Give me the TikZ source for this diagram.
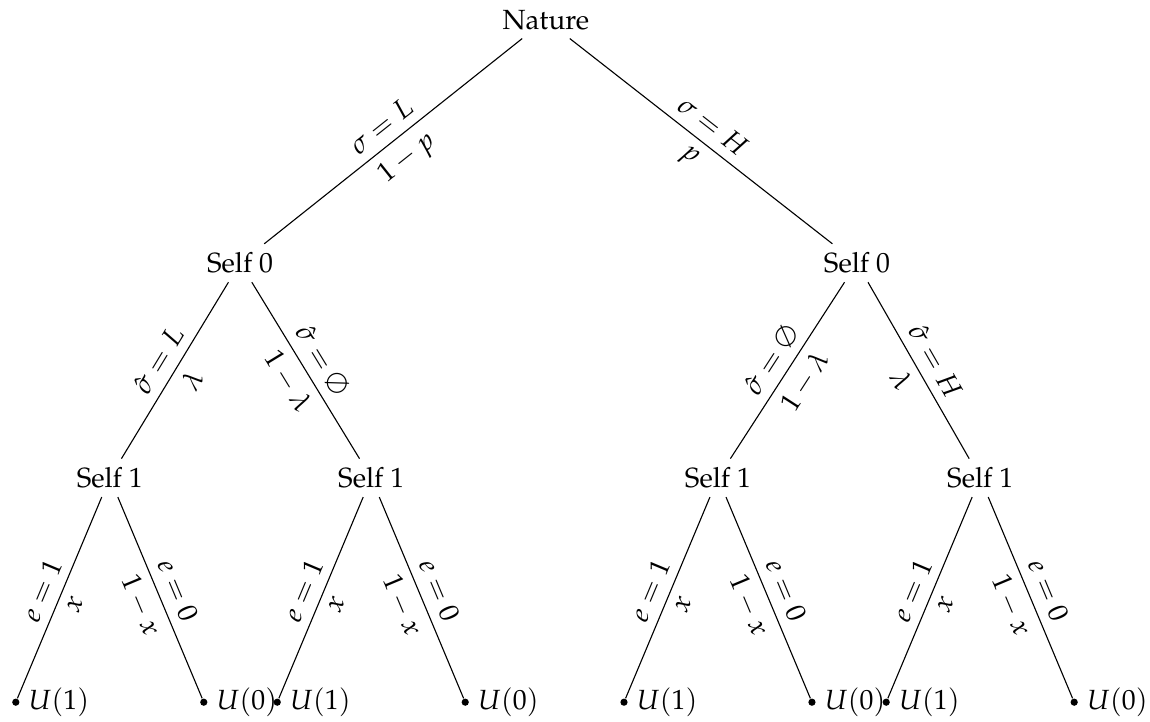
\documentclass[tikz,border=0pt]{standalone}
\usepackage[T1]{fontenc}
\usepackage{mathpazo}
\begin{document}
\begin{tikzpicture}[
    player/.style={inner sep=3pt},
    leaf/.style={circle, fill, inner sep=0pt, minimum size=2.6pt},
    payoff/.style={anchor=west, inner sep=3pt},
    choice/.style={midway, sloped, above},
    prob/.style={midway, sloped, below}]

    \def\leafGap{1.19}
    \def\leafY{-8.89}

    \useasboundingbox (0,0) rectangle (14.56,-9.14);

    % Nature and the first selves
    \node[player] (N) at (6.91,-0.25) {Nature};
    \node[player] (S0L) at (3.04,-3.33) {Self 0};
    \node[player] (S0R) at (10.85,-3.33) {Self 0};

    \draw (N) -- (S0L) node[choice] {$\sigma = L$} node[prob] {$1-p$};
    \draw (N) -- (S0R) node[choice] {$\sigma = H$} node[prob] {$p$};

    % Second selves
    \node[player] (S1a) at (1.39,-6.05) {Self 1};
    \node[player] (S1b) at (4.70,-6.05) {Self 1};
    \node[player] (S1c) at (9.09,-6.05) {Self 1};
    \node[player] (S1d) at (12.41,-6.05) {Self 1};

    \draw (S0L) -- (S1a) node[choice] {$\hat{\sigma} = L$} node[prob] {$\lambda$};
    \draw (S0L) -- (S1b) node[choice] {$\hat{\sigma} = \emptyset$} node[prob] {$1-\lambda$};
    \draw (S0R) -- (S1c) node[choice] {$\hat{\sigma} = \emptyset$} node[prob] {$1-\lambda$};
    \draw (S0R) -- (S1d) node[choice] {$\hat{\sigma} = H$} node[prob] {$\lambda$};

    % Effort choice and payoffs
    \foreach \s in {a,b,c,d} {
        \path (S1\s) ++(-\leafGap,0) coordinate (tmpL);
        \node[leaf] (E1\s) at (tmpL |- 0,\leafY) {};
        \path (S1\s) ++(\leafGap,0) coordinate (tmpR);
        \node[leaf] (E0\s) at (tmpR |- 0,\leafY) {};

        \draw (S1\s) -- (E1\s) node[choice] {$e = 1$} node[prob] {$x$};
        \draw (S1\s) -- (E0\s) node[choice] {$e = 0$} node[prob] {$1-x$};

        \node[payoff] (U1\s) at (E1\s.east) {$U(1)$};
        \node[payoff] (U0\s) at (E0\s.east) {$U(0)$};
    }

\end{tikzpicture}
\end{document}
